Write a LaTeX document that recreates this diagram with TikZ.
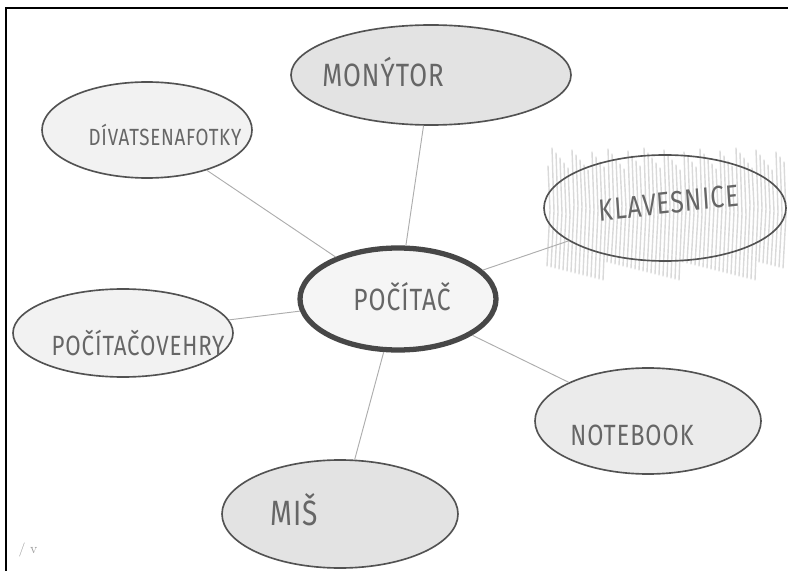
\documentclass[tikz,border=0pt]{standalone}
\usepackage{fontspec}
\newfontfamily\handfont[LetterSpace=4]{Fira Sans}
\usetikzlibrary{shapes.geometric}
\newlength\unitpx
\setlength\unitpx{0.03cm}

\tikzset{
  bubble/.style={ellipse, draw=black!68, line width=1.4pt, fill=black!9, inner sep=0pt},
  hub/.style={bubble, draw=black!72, line width=4.5pt, fill=black!4},
  spoke/.style={draw=black!32, line width=0.8pt},
  scrawl/.style={text=black!60, inner sep=0pt, yscale=1.25, transform shape,
    font=\handfont\fontsize{#1}{#1}\selectfont},
}

\begin{document}
\begin{tikzpicture}[x=0.03cm, y=-0.03cm]
\useasboundingbox (0,0) rectangle (788,571);
% frame of the scanned sheet
\draw[line width=1.6pt] (6,571) -- (6,8) -- (788,8);

% pencil scribble round the keyboard bubble
\foreach \x in {548,552,...,784}
  \draw[black!15, line width=1.2pt, line cap=round]
    (\x,{148+mod(\x*7,23)}) -- (\x+2,{205+mod(\x*3,11)}) -- (\x-1,{262+mod(\x*5,19)});

% bubbles
\node[hub, minimum width=196\unitpx, minimum height=102\unitpx] (pocitac) at (398,299) {};
\node[bubble, minimum width=280\unitpx, minimum height=100\unitpx, fill=black!11] (monytor) at (431,75) {};
\node[bubble, minimum width=210\unitpx, minimum height=96\unitpx, fill=black!5] (divat) at (147,130) {};
\node[bubble, minimum width=242\unitpx, minimum height=106\unitpx, fill=none] (klaves) at (665,208) {};
\node[bubble, minimum width=220\unitpx, minimum height=88\unitpx, fill=black!5] (hry) at (123,333) {};
\node[bubble, minimum width=226\unitpx, minimum height=106\unitpx, fill=black!8] (notebook) at (648,421) {};
\node[bubble, minimum width=236\unitpx, minimum height=108\unitpx, fill=black!11] (mys) at (340,514) {};

% spokes
\draw[spoke] (pocitac) -- (monytor);
\draw[spoke] (pocitac) -- (divat);
\draw[spoke] (pocitac) -- (klaves);
\draw[spoke] (pocitac) -- (hry);
\draw[spoke] (pocitac) -- (notebook);
\draw[spoke] (pocitac) -- (mys);

% words
\node[scrawl=21] (pocitac-t) at (402,297) {POČÍTAČ};
\node[scrawl=22] (monytor-t) at (383,72) {MONÝTOR};
\node[scrawl=16] (divat-t) at (165,135) {DÍVATSENAFOTKY};
\node[scrawl=21, rotate=5] (klaves-t) at (669,203) {KLAVESNICE};
\node[scrawl=19] (hry-t) at (138,343) {POČÍTAČOVEHRY};
\node[scrawl=20] (notebook-t) at (632,435) {NOTEBOOK};
\node[scrawl=24] (mys-t) at (294,510) {MIŠ};
\node[text=black!40, font=\large] (corner) at (28,550) {/ v};
\end{tikzpicture}
\end{document}
